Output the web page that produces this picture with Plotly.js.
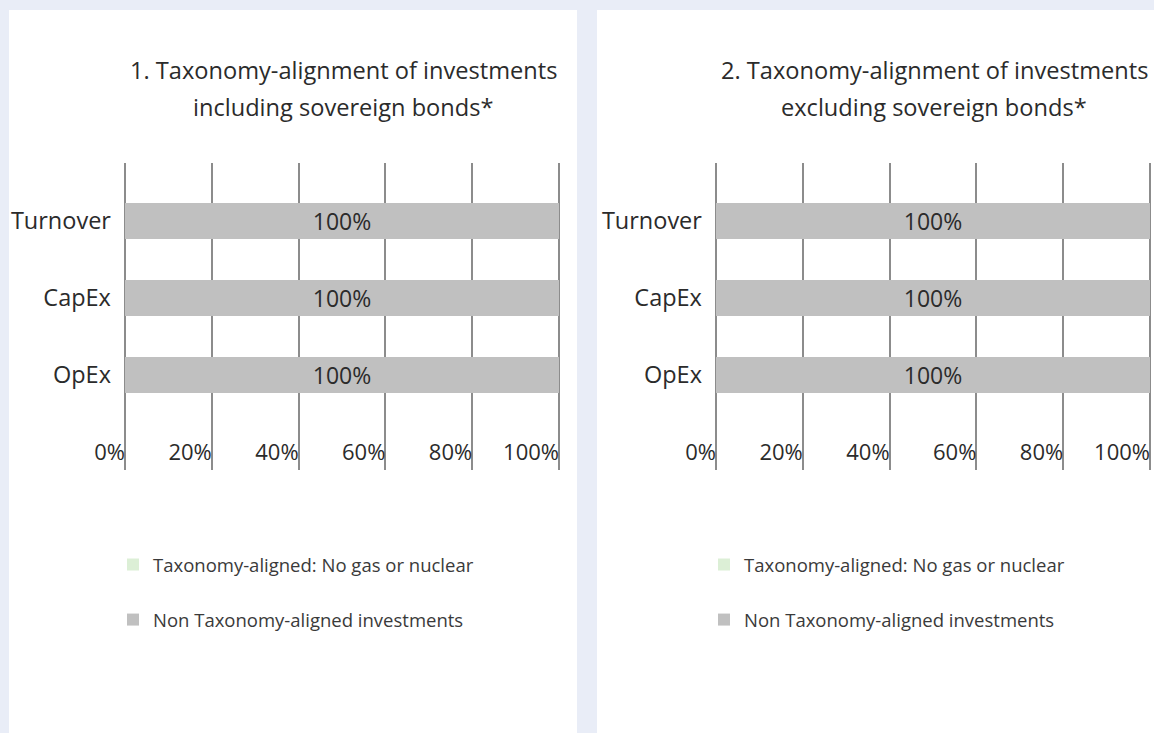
<!DOCTYPE html>
<html><head><meta charset="utf-8">
<script src="https://cdn.plot.ly/plotly-3.0.1.min.js"></script>
<style>html,body{margin:0;padding:0;background:#e9edf7;}#chart{width:1154px;height:733px;}</style>
</head><body><div id="chart"></div>
<script>
// ---- data ----
const categories = ['Turnover', 'CapEx', 'OpEx'];
const alignedIncl = [0, 0, 0];
const nonAlignedIncl = [100, 100, 100];
const alignedExcl = [0, 0, 0];
const nonAlignedExcl = [100, 100, 100];
const tickVals = [0, 20, 40, 60, 80, 100];
const tickText = ['0%', '20%', '40%', '60%', '80%', '100%'];
const seriesNames = ['Taxonomy-aligned: No gas or nuclear', 'Non Taxonomy-aligned investments'];
const titleLines1 = ['1. Taxonomy-alignment of investments', 'including sovereign bonds*'];
const titleLines2 = ['2. Taxonomy-alignment of investments', 'excluding sovereign bonds*'];

// ---- styling / layout helpers ----
const W = 1154, H = 733;
const fx = p => p / W, fy = p => 1 - p / H;
const green = '#dcefd6', grey = '#c0c0c0', txt = '#2b2b2b';
const FONT = '"Open Sans", "Noto Sans", sans-serif';

function barTrace(name, vals, color, xa, ya, lg, grp, withText) {
  return {
    type: 'bar', orientation: 'h', name: name, y: categories, x: vals,
    xaxis: xa, yaxis: ya, legend: lg, legendgroup: grp,
    width: 0.48, marker: {color: color},
    texttemplate: withText ? '%{x:.0f}%' : '', textposition: withText ? 'inside' : 'none',
    insidetextanchor: 'middle', constraintext: 'none',
    textfont: {size: 23, color: txt, family: FONT}, hoverinfo: 'skip'
  };
}

const data = [
  barTrace(seriesNames[0], alignedIncl, green, 'x', 'y', 'legend', 'g1', false),
  barTrace(seriesNames[1], nonAlignedIncl, grey, 'x', 'y', 'legend', 'n1', true),
  barTrace(seriesNames[0], alignedExcl, green, 'x2', 'y2', 'legend2', 'g2', false),
  barTrace(seriesNames[1], nonAlignedExcl, grey, 'x2', 'y2', 'legend2', 'n2', true)
];

const pxPerUnit = 4.34;
function xAxis(zeroPx, anchor) {
  return {
    domain: [fx(zeroPx - 9 * pxPerUnit), fx(zeroPx + 100.6 * pxPerUnit)],
    range: [-9, 100.6], anchor: anchor,
    tickmode: 'array', tickvals: tickVals, ticktext: tickText,
    ticklabelposition: 'inside left', ticks: '',
    showgrid: true, gridcolor: '#8c8c8c', gridwidth: 2,
    zeroline: false, showline: false, fixedrange: true,
    tickfont: {size: 22, color: txt, family: FONT}
  };
}
function yAxis(anchor) {
  return {
    domain: [fy(470), fy(163)], range: [3.234, -0.753], type: 'category', anchor: anchor,
    showgrid: false, zeroline: false, showline: false, ticks: '',
    ticklabelstandoff: -26, fixedrange: true,
    tickfont: {size: 23.5, color: txt, family: FONT}
  };
}
function legend(xPx) {
  return {
    x: fx(xPx), y: fy(546), xanchor: 'left', yanchor: 'top',
    bgcolor: 'rgba(0,0,0,0)', borderwidth: 0,
    font: {size: 18.5, color: '#3a3a3a', family: FONT},
    tracegroupgap: 28, traceorder: 'grouped'
  };
}
function titleAnn(lines, centerPx) {
  return lines.map((t, i) => ({
    text: t, xref: 'paper', yref: 'paper', x: fx(centerPx), y: fy(i === 0 ? 70 : 107),
    xanchor: 'center', yanchor: 'middle', showarrow: false,
    font: {size: 23.6, color: txt, family: FONT}
  }));
}

const layout = {
  width: W, height: H, margin: {l: 0, r: 0, t: 0, b: 0, pad: 0},
  paper_bgcolor: '#e9edf7', plot_bgcolor: 'rgba(0,0,0,0)',
  font: {family: FONT, color: txt},
  barmode: 'stack', showlegend: true,
  xaxis: xAxis(125, 'y'), yaxis: yAxis('x'),
  xaxis2: xAxis(716, 'y2'), yaxis2: yAxis('x2'),
  legend: legend(113), legend2: legend(704),
  shapes: [
    {type: 'rect', xref: 'paper', yref: 'paper', x0: fx(9), x1: fx(577), y0: -0.05, y1: fy(10),
     fillcolor: '#ffffff', line: {width: 0}, layer: 'below'},
    {type: 'rect', xref: 'paper', yref: 'paper', x0: fx(597), x1: 1.05, y0: -0.05, y1: fy(10),
     fillcolor: '#ffffff', line: {width: 0}, layer: 'below'}
  ],
  annotations: titleAnn(titleLines1, 343).concat(titleAnn(titleLines2, 934))
};

Plotly.newPlot('chart', data, layout, {displayModeBar: false, staticPlot: true});
</script>
</body></html>
